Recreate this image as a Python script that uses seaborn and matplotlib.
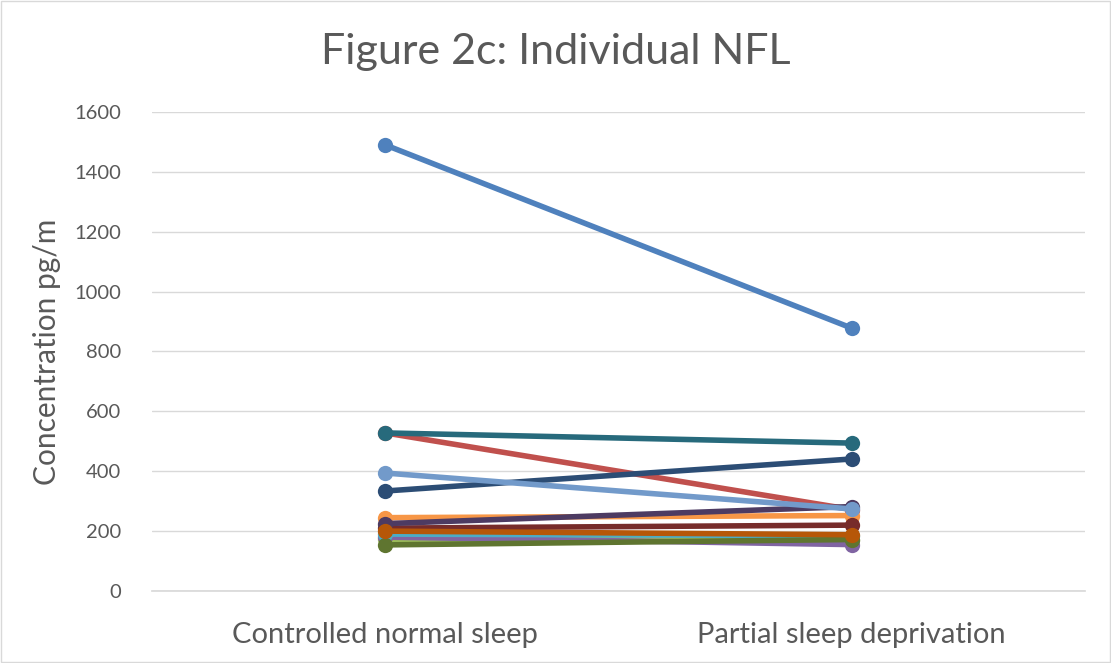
import matplotlib
matplotlib.use("Agg")
import matplotlib.pyplot as plt
import seaborn as sns
import pandas as pd

conditions = ["Controlled normal sleep", "Partial sleep deprivation"]
subjects = [f"S{i}" for i in range(1, 14)]
normal_sleep = [1490, 528, 173, 180, 190, 245, 334, 210, 154, 225, 528, 200, 394]
sleep_deprivation = [878, 272, 170, 155, 185, 252, 441, 220, 172, 282, 494, 188, 274]
colors = ["#4F81BD", "#C0504D", "#9BBB59", "#8064A2", "#4BACC6", "#F79646",
          "#2C4D75", "#772C2A", "#5F7530", "#4D3B62", "#276A7C", "#B65708",
          "#729ACA"]

rows = []
for s, a, b in zip(subjects, normal_sleep, sleep_deprivation):
    rows.append({"subject": s, "pos": 0, "value": a})
    rows.append({"subject": s, "pos": 1, "value": b})
df = pd.DataFrame(rows)

sns.set_theme(style="white")
plt.rcParams["font.family"] = ["Lato", "DejaVu Sans"]

fig = plt.figure(figsize=(11.11, 6.63), dpi=100)
ax = fig.add_axes([0.1368, 0.1086, 0.8398, 0.7225])

sns.lineplot(data=df, x="pos", y="value", hue="subject", hue_order=subjects,
             palette=colors, marker="o", markersize=11, markeredgewidth=0,
             linewidth=4.0, legend=False, ax=ax, sort=False)

ax.set_xlim(-0.5, 1.5)
ax.set_ylim(0, 1600)
ax.set_yticks(range(0, 1601, 200))
ax.set_xticks([0, 1])
ax.set_xticklabels(conditions, fontsize=21, color="#595959")
ax.tick_params(axis="y", labelsize=14.5, labelcolor="#595959", length=0, pad=22)
ax.tick_params(axis="x", length=0, pad=22)
ax.yaxis.grid(True, color="#D9D9D9", linewidth=1)
ax.set_axisbelow(True)
for side in ["top", "right", "left"]:
    ax.spines[side].set_visible(False)
ax.spines["bottom"].set_color("#D9D9D9")
ax.set_xlabel("")
ax.set_ylabel("Concentration pg/m", fontsize=21.5, color="#595959", labelpad=10)

fig.text(0.5, 0.922, "Figure 2c: Individual NFL", ha="center", va="center",
         fontsize=31, color="#595959")

border = plt.Rectangle((0.001, 0.001), 0.998, 0.998, transform=fig.transFigure,
                       fill=False, edgecolor="#D9D9D9", linewidth=1)
fig.patches.append(border)

fig.savefig("out.png", dpi=100)
